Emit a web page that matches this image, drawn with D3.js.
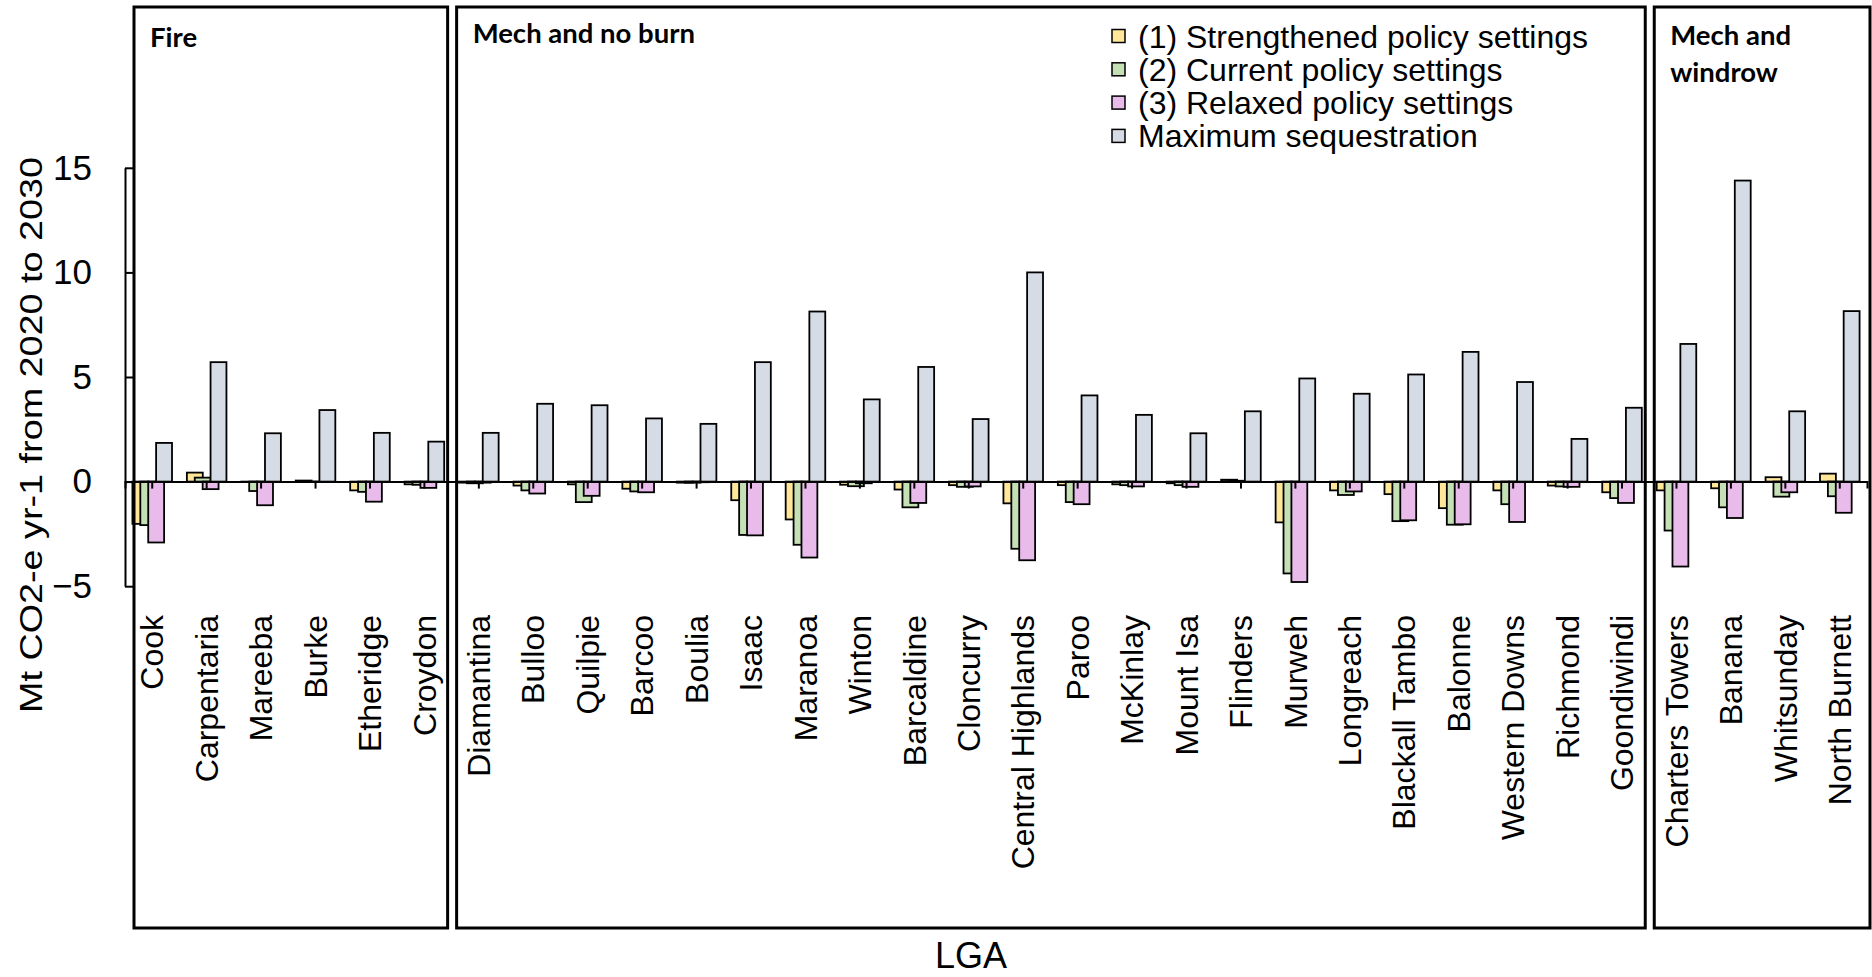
<!DOCTYPE html>
<html><head><meta charset="utf-8">
<script src="https://cdn.jsdelivr.net/npm/d3@7"></script>
<style>body{margin:0;background:#fff} svg{display:block}</style>
</head><body><svg id="c" width="1872" height="977"></svg>
<script>
const categories = ["Cook","Carpentaria","Mareeba","Burke","Etheridge","Croydon",
  "Diamantina","Bulloo","Quilpie","Barcoo","Boulia","Isaac","Maranoa","Winton","Barcaldine","Cloncurry",
  "Central Highlands","Paroo","McKinlay","Mount Isa","Flinders","Murweh","Longreach","Blackall Tambo",
  "Balonne","Western Downs","Richmond","Goondiwindi",
  "Charters Towers","Banana","Whitsunday","North Burnett"];
const panelNames = ["Fire","Mech and no burn","Mech and windrow"];
const panelSizes = [6, 22, 4];
const seriesNames = ["(1) Strengthened policy settings","(2) Current policy settings","(3) Relaxed policy settings","Maximum sequestration"];
const strengthened = [-2.02,0.43,-0.02,0.05,-0.42,-0.13,-0.05,-0.19,-0.13,-0.34,-0.05,-0.89,-1.81,-0.15,-0.38,-0.17,-1.04,-0.17,-0.13,-0.08,0.09,-1.95,-0.42,-0.60,-1.27,-0.42,-0.19,-0.51,-0.42,-0.32,0.21,0.38];
const current      = [-2.08,0.19,-0.45,-0.02,-0.49,-0.15,-0.08,-0.42,-0.98,-0.47,-0.05,-2.55,-3.02,-0.22,-1.23,-0.25,-3.21,-0.98,-0.17,-0.17,0.04,-4.39,-0.64,-1.89,-2.06,-1.08,-0.23,-0.79,-2.34,-1.23,-0.72,-0.70];
const relaxed      = [-2.91,-0.36,-1.13,-0.02,-0.96,-0.30,-0.05,-0.57,-0.68,-0.51,-0.03,-2.57,-3.63,-0.08,-1.02,-0.23,-3.76,-1.08,-0.23,-0.25,-0.02,-4.80,-0.47,-1.85,-2.04,-1.93,-0.25,-1.02,-4.06,-1.74,-0.51,-1.49];
const maximum      = [1.85,5.71,2.31,3.42,2.33,1.91,2.33,3.72,3.65,3.02,2.76,5.71,8.13,3.93,5.48,2.99,10.0,4.12,3.19,2.31,3.36,4.93,4.20,5.12,6.20,4.76,2.04,3.53,6.58,14.39,3.36,8.15];
const yTicks = [-5, 0, 5, 10, 15];
const yTitle = "Mt CO2-e yr-1 from 2020 to 2030";
const xTitle = "LGA";
const colors = ["#FFE699","#C5E0B4","#E9BBEB","#D6DCE5"];

const FONT = "'Liberation Sans', Arial, sans-serif";
const TFONT = "Lato, 'Open Sans', sans-serif";
const svg = d3.select("#c");
const x = d3.scaleBand().domain(categories).range([125, 1867]);
const y = d3.scaleLinear().domain([-5, 15]).range([586.2, 167.8]);
const bw = x.bandwidth();
const barW = bw * 0.292;
const step = bw * 0.145;
const groupW = 3 * step + barW;
const series = [strengthened, current, relaxed, maximum];

// bars
series.forEach((vals, si) => {
  svg.append("g").selectAll("rect").data(categories).join("rect")
    .attr("x", c => x(c) + bw / 2 - groupW / 2 + si * step)
    .attr("width", barW)
    .attr("y", (c, i) => y(Math.max(0, vals[i])))
    .attr("height", (c, i) => Math.abs(y(vals[i]) - y(0)))
    .attr("fill", colors[si]).attr("stroke", "#000").attr("stroke-width", 1.8);
});

// zero line with category ticks
const xAxis = svg.append("g").attr("transform", `translate(0,${y(0)})`)
  .call(d3.axisBottom(x).tickSizeInner(7).tickSizeOuter(7).tickFormat(""));
xAxis.selectAll("path,line").attr("stroke", "#000").attr("stroke-width", 2);

// y axis
const yAxis = svg.append("g").attr("transform", "translate(125,0)")
  .call(d3.axisLeft(y).tickValues(yTicks).tickSizeInner(-10).tickSizeOuter(0).tickPadding(33));
yAxis.selectAll("path,line").attr("stroke", "#000").attr("stroke-width", 2);
yAxis.selectAll("text").attr("font-family", FONT).attr("font-size", 35).attr("fill", "#000");

// category labels
svg.append("g").selectAll("text").data(categories).join("text")
  .attr("transform", c => `translate(${x(c) + bw / 2},615) rotate(-90)`)
  .attr("text-anchor", "end").attr("dy", "0.35em")
  .attr("font-family", FONT).attr("font-size", 32).text(c => c);

// panels
let start = 0;
const titleBase = [47, 43, 45];
panelNames.forEach((name, pi) => {
  const first = categories[start], last = categories[start + panelSizes[pi] - 1];
  const x0 = pi === 0 ? x(first) + 9 : x(first) + 5;
  const x1 = pi === panelNames.length - 1 ? x(last) + bw + 3 : x(last) + bw - 4;
  svg.append("rect").attr("x", x0).attr("y", 7).attr("width", x1 - x0).attr("height", 921)
    .attr("fill", "none").attr("stroke", "#000").attr("stroke-width", 3);
  const words = pi === 2 ? ["Mech and", "windrow"] : [name];
  const t = svg.append("text").attr("font-family", TFONT).attr("font-weight", 700)
    .attr("font-size", 27.5).attr("fill", "#000");
  words.forEach((w, wi) => t.append("tspan").attr("x", x0 + 16).attr("y", titleBase[pi] + wi * 37).text(w));
  start += panelSizes[pi];
});

// legend
const lg = svg.append("g").attr("transform", "translate(1112,0)");
seriesNames.forEach((n, i) => {
  const cy = 36 + i * 33.3;
  lg.append("rect").attr("x", 0).attr("y", cy - 6.5).attr("width", 13).attr("height", 13)
    .attr("fill", colors[i]).attr("stroke", "#000").attr("stroke-width", 1.5);
  lg.append("text").attr("x", 26).attr("y", cy + 11.5).attr("font-family", FONT)
    .attr("font-size", 32).text(n);
});

// axis titles
svg.append("text").attr("transform", "translate(42,435) rotate(-90)")
  .attr("text-anchor", "middle").attr("font-family", FONT).attr("font-size", 31)
  .attr("textLength", 556).attr("lengthAdjust", "spacingAndGlyphs").text(yTitle);
svg.append("text").attr("x", 971).attr("y", 968).attr("text-anchor", "middle")
  .attr("font-family", FONT).attr("font-size", 36).text(xTitle);
</script></body></html>
